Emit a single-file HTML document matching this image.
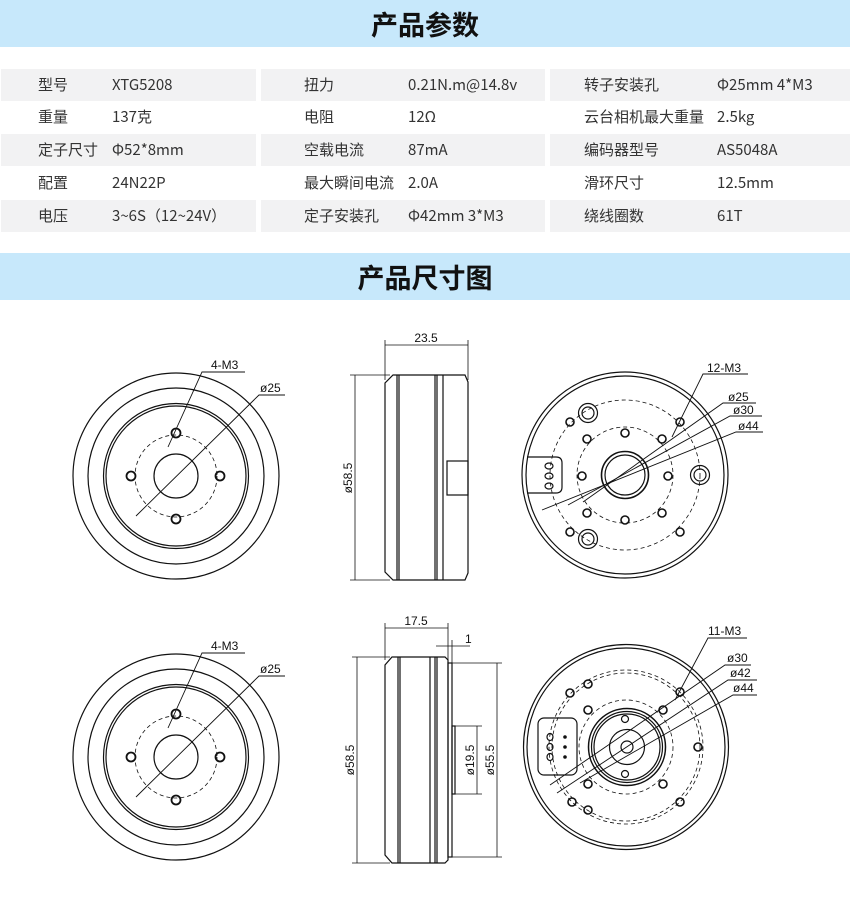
<!DOCTYPE html>
<html><head><meta charset="utf-8"><style>
body{margin:0;width:850px;height:912px;background:#fff;position:relative;overflow:hidden;font-family:"Liberation Sans","Noto Sans CJK SC",sans-serif;}
.ban{position:absolute;left:0;width:850px;height:47px;background:#c7e8fb;text-align:center;font-size:27px;font-weight:bold;color:#111;line-height:47px;font-family:"Noto Sans CJK SC",sans-serif;}
.cell{position:absolute;height:32px;font-size:15px;color:#333;line-height:32px;}
.g{background:#f2f2f3;}
.t{position:absolute;font-size:15px;color:#333;line-height:32px;white-space:nowrap;font-family:"Noto Sans CJK SC",sans-serif;}
svg{position:absolute;left:0;top:0}
svg text{font-family:"Liberation Sans",sans-serif;font-size:12px;fill:#111}
</style></head><body>
<div class="ban" style="top:0">产品参数</div>
<div class="cell g" style="left:1px;width:255px;top:69px"></div><div class="cell g" style="left:261px;width:284px;top:69px"></div><div class="cell g" style="left:550px;width:300px;top:69px"></div>
<div class="cell g" style="left:1px;width:255px;top:134px"></div><div class="cell g" style="left:261px;width:284px;top:134px"></div><div class="cell g" style="left:550px;width:300px;top:134px"></div>
<div class="cell g" style="left:1px;width:255px;top:200px"></div><div class="cell g" style="left:261px;width:284px;top:200px"></div><div class="cell g" style="left:550px;width:300px;top:200px"></div>

<div class="t" style="left:38px;top:69px">型号</div><div class="t" style="left:112px;top:69px">XTG5208</div>
<div class="t" style="left:304px;top:69px">扭力</div><div class="t" style="left:408px;top:69px">0.21N.m@14.8v</div>
<div class="t" style="left:584px;top:69px">转子安装孔</div><div class="t" style="left:717px;top:69px">Φ25mm 4*M3</div>

<div class="t" style="left:38px;top:101px">重量</div><div class="t" style="left:112px;top:101px">137克</div>
<div class="t" style="left:304px;top:101px">电阻</div><div class="t" style="left:408px;top:101px">12Ω</div>
<div class="t" style="left:584px;top:101px">云台相机最大重量</div><div class="t" style="left:717px;top:101px">2.5kg</div>

<div class="t" style="left:38px;top:134px">定子尺寸</div><div class="t" style="left:112px;top:134px">Φ52*8mm</div>
<div class="t" style="left:304px;top:134px">空载电流</div><div class="t" style="left:408px;top:134px">87mA</div>
<div class="t" style="left:584px;top:134px">编码器型号</div><div class="t" style="left:717px;top:134px">AS5048A</div>

<div class="t" style="left:38px;top:167px">配置</div><div class="t" style="left:112px;top:167px">24N22P</div>
<div class="t" style="left:304px;top:167px">最大瞬间电流</div><div class="t" style="left:408px;top:167px">2.0A</div>
<div class="t" style="left:584px;top:167px">滑环尺寸</div><div class="t" style="left:717px;top:167px">12.5mm</div>

<div class="t" style="left:38px;top:200px">电压</div><div class="t" style="left:112px;top:200px">3~6S（12~24V）</div>
<div class="t" style="left:304px;top:200px">定子安装孔</div><div class="t" style="left:408px;top:200px">Φ42mm 3*M3</div>
<div class="t" style="left:584px;top:200px">绕线圈数</div><div class="t" style="left:717px;top:200px">61T</div>

<div class="ban" style="top:253px">产品尺寸图</div>

<svg width="850" height="912" viewBox="0 0 850 912" fill="none" stroke="#111" stroke-width="1.2">
<defs>
<g id="front">
<circle cx="176" cy="476" r="103"/>
<circle cx="176" cy="476" r="88"/>
<circle cx="176" cy="476" r="72.5"/>
<circle cx="176" cy="476" r="70"/>
<circle cx="176" cy="476" r="41" stroke-dasharray="4 3" stroke-width="0.8"/>
<circle cx="176" cy="476" r="22"/>
<circle cx="176" cy="433" r="4.5" stroke-width="1.8"/>
<circle cx="176" cy="519" r="4.5" stroke-width="1.8"/>
<circle cx="131" cy="476" r="4.5" stroke-width="1.8"/>
<circle cx="220" cy="476" r="4.5" stroke-width="1.8"/>
<polyline points="168,447 202,372 245,372" stroke-width="0.9"/>
<polyline points="136,516 259,395 285,395" stroke-width="0.9"/>
<text x="211" y="369" stroke="none">4-M3</text>
<text x="260" y="392" stroke="none">ø25</text>
</g>
</defs>
<use href="#front"/>
<use href="#front" transform="translate(0,281)"/>

<path d="M393,375 L465,375 L468,382 L468,573 L465,580 L393,580 L385,572 L385,383 Z"/>
<line x1="397" y1="375" x2="397" y2="580"/><line x1="399" y1="375" x2="399" y2="580"/>
<line x1="435" y1="375" x2="435" y2="580"/><line x1="437" y1="375" x2="437" y2="580"/>
<line x1="443" y1="375" x2="443" y2="580"/>
<rect x="447" y="461" width="21" height="34"/>
<g stroke-width="0.8">
<line x1="385" y1="340" x2="385" y2="380"/><line x1="468" y1="340" x2="468" y2="380"/>
<line x1="385" y1="345" x2="468" y2="345"/>
<line x1="350" y1="375" x2="390" y2="375"/><line x1="350" y1="580" x2="390" y2="580"/>
<line x1="355" y1="375" x2="355" y2="580"/>
</g>
<text x="426" y="342" stroke="none" text-anchor="middle">23.5</text>
<text x="0" y="0" stroke="none" text-anchor="middle" transform="translate(352,478) rotate(-90)">ø58.5</text>

<circle cx="625" cy="475" r="103"/>
<circle cx="625" cy="475" r="99"/>
<circle cx="625" cy="475" r="75" stroke-dasharray="4 3" stroke-width="0.8"/>
<circle cx="625" cy="475" r="48" stroke-dasharray="4 3" stroke-width="0.8"/>
<circle cx="625" cy="475" r="23.5" stroke-width="1.6"/>
<circle cx="625" cy="475" r="20"/>
<g stroke-width="1.6">
<circle cx="570" cy="422" r="4"/><circle cx="680" cy="422" r="4"/><circle cx="570" cy="532" r="4"/><circle cx="680" cy="532" r="4"/>
<circle cx="587" cy="439" r="4"/><circle cx="625" cy="433" r="4"/><circle cx="662" cy="439" r="4"/>
<circle cx="582" cy="476" r="4"/><circle cx="668" cy="476" r="4"/>
<circle cx="587" cy="513" r="4"/><circle cx="625" cy="520" r="4"/><circle cx="662" cy="513" r="4"/>
</g>
<circle cx="588" cy="413" r="9.5"/><circle cx="588" cy="413" r="6"/>
<circle cx="588" cy="539" r="9.5"/><circle cx="588" cy="539" r="6"/>
<circle cx="700" cy="475" r="9.5"/><circle cx="700" cy="475" r="6"/>
<path d="M527,457 L556,457 Q562,457 562,463 L562,487 Q562,493 556,493 L527,493"/>
<ellipse cx="549" cy="466" rx="4" ry="3"/><ellipse cx="549" cy="476" rx="4" ry="3"/><ellipse cx="549" cy="486" rx="4" ry="3"/>
<g stroke-width="0.9">
<polyline points="672,437 703,374 748,374"/>
<polyline points="583,502 723,403 756,403"/>
<polyline points="568,505 730,416 762,416"/>
<polyline points="542,510 736,432 763,432"/>
</g>
<text x="707" y="372" stroke="none">12-M3</text>
<text x="728" y="401" stroke="none">ø25</text>
<text x="733" y="414" stroke="none">ø30</text>
<text x="738" y="430" stroke="none">ø44</text>

<path d="M392,657 L445,657 L448,660 L448,860 L445,863 L392,863 L385,855 L385,665 Z"/>
<line x1="398" y1="657" x2="398" y2="863"/><line x1="400" y1="657" x2="400" y2="863"/>
<line x1="430" y1="657" x2="430" y2="863"/><line x1="435" y1="657" x2="435" y2="863"/>
<line x1="437" y1="657" x2="437" y2="863"/>
<rect x="448" y="663" width="4" height="194"/>
<rect x="452" y="726" width="3" height="68"/>
<g stroke-width="0.8">
<line x1="385" y1="623" x2="385" y2="660"/><line x1="448" y1="623" x2="448" y2="660"/>
<line x1="385" y1="628" x2="448" y2="628"/>
<line x1="452" y1="640" x2="452" y2="663"/>
<line x1="436" y1="646" x2="470" y2="646"/>
<line x1="352" y1="657" x2="390" y2="657"/><line x1="352" y1="863" x2="390" y2="863"/>
<line x1="357" y1="657" x2="357" y2="863"/>
<line x1="455" y1="726" x2="482" y2="726"/><line x1="455" y1="794" x2="482" y2="794"/>
<line x1="477" y1="726" x2="477" y2="794"/>
<line x1="452" y1="663" x2="502" y2="663"/><line x1="452" y1="857" x2="502" y2="857"/>
<line x1="497" y1="663" x2="497" y2="857"/>
</g>
<text x="416" y="625" stroke="none" text-anchor="middle">17.5</text>
<text x="465" y="643" stroke="none">1</text>
<text x="0" y="0" stroke="none" text-anchor="middle" transform="translate(354,760) rotate(-90)">ø58.5</text>
<text x="0" y="0" stroke="none" text-anchor="middle" transform="translate(474,760) rotate(-90)">ø19.5</text>
<text x="0" y="0" stroke="none" text-anchor="middle" transform="translate(494,760) rotate(-90)">ø55.5</text>

<circle cx="626" cy="747" r="102.5"/>
<circle cx="626" cy="747" r="99"/>
<circle cx="626" cy="747" r="77" stroke-dasharray="4 3" stroke-width="0.8"/>
<circle cx="626" cy="747" r="74" stroke-dasharray="4 3" stroke-width="0.8"/>
<circle cx="626" cy="747" r="47" stroke-dasharray="4 3" stroke-width="0.8"/>
<circle cx="627" cy="747" r="38.5" stroke-width="1.5"/>
<circle cx="627" cy="747" r="35.5"/>
<circle cx="627" cy="747" r="33"/>
<circle cx="627" cy="747" r="17.5"/>
<circle cx="627" cy="747" r="6"/>
<g stroke-width="1.6">
<circle cx="588" cy="684" r="4"/><circle cx="570" cy="693" r="4"/><circle cx="680" cy="692" r="4"/>
<circle cx="588" cy="710" r="4"/><circle cx="663" cy="710" r="4"/><circle cx="698" cy="747" r="4"/>
<circle cx="588" cy="784" r="4"/><circle cx="663" cy="784" r="4"/><circle cx="572" cy="802" r="4"/>
<circle cx="588" cy="810" r="4"/><circle cx="680" cy="802" r="4"/>
</g>
<circle cx="625" cy="719" r="3.5"/><circle cx="625" cy="774" r="3.5"/>
<rect x="538" y="718" width="39" height="57" rx="6"/>
<ellipse cx="550" cy="737" rx="3" ry="3.5"/><ellipse cx="550" cy="747" rx="3" ry="3.5"/><ellipse cx="550" cy="757" rx="3" ry="3.5"/>
<circle cx="565" cy="737" r="1.2" fill="#111"/><circle cx="565" cy="747" r="1.2" fill="#111"/><circle cx="565" cy="757" r="1.2" fill="#111"/>
<g stroke-width="0.9">
<polyline points="675,700 708,638 747,638"/>
<polyline points="550,785 725,665 751,665"/>
<polyline points="557,793 728,680 757,680"/>
<polyline points="580,783 733,695 757,695"/>
</g>
<text x="708" y="635" stroke="none">11-M3</text>
<text x="727" y="662" stroke="none">ø30</text>
<text x="730" y="677" stroke="none">ø42</text>
<text x="733" y="692" stroke="none">ø44</text>
</svg>
</body></html>
